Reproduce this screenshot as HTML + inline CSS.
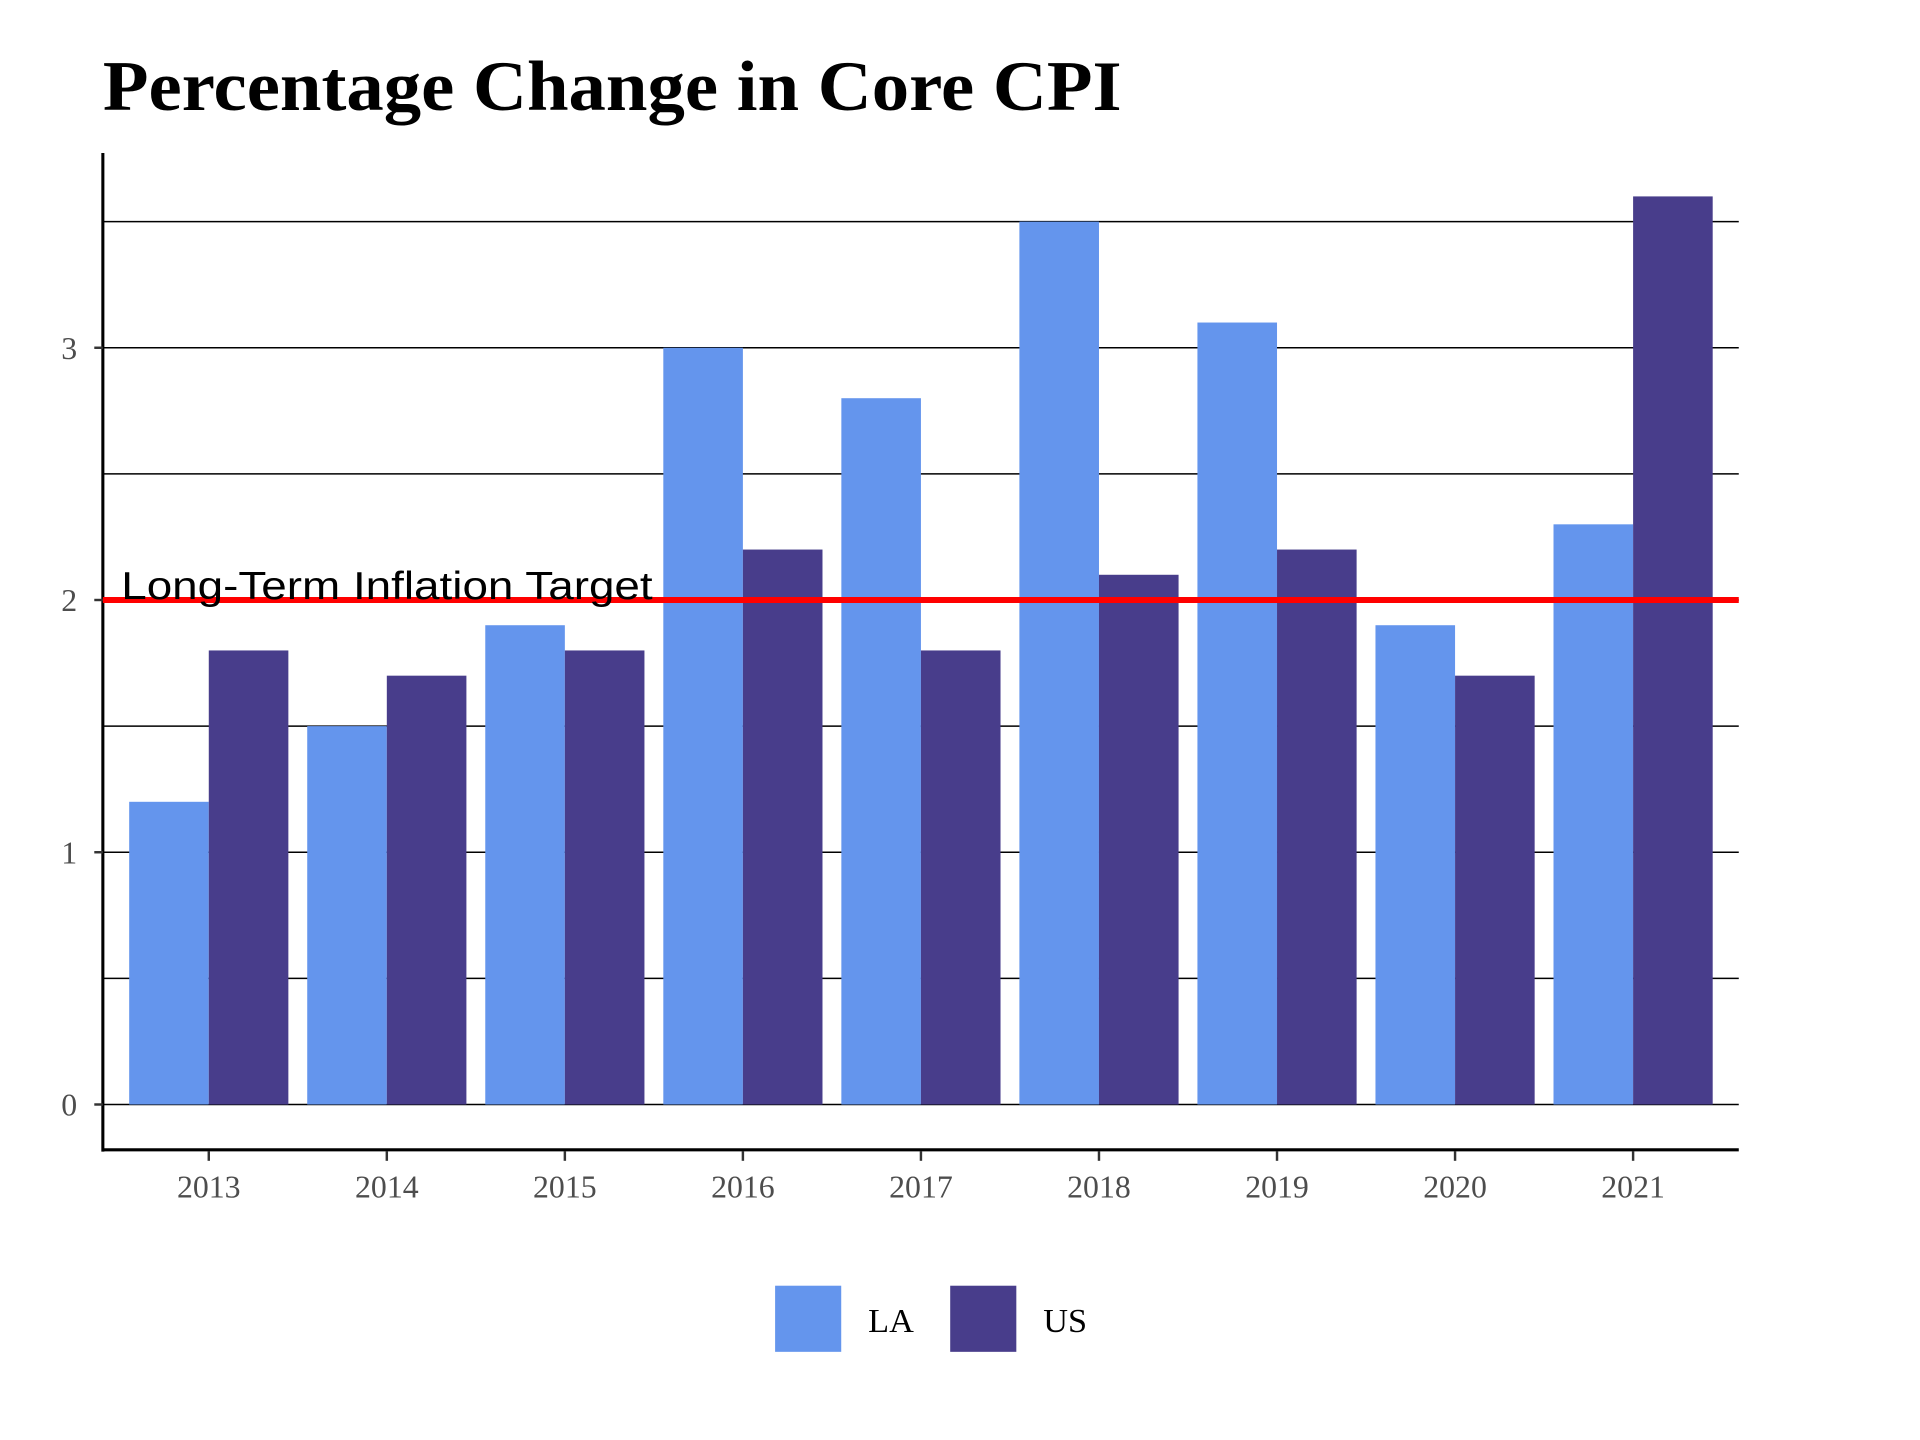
<!DOCTYPE html>
<html><head><meta charset="utf-8"><style>
html,body{margin:0;padding:0;background:#fff;}
svg{display:block;}
</style></head><body>
<svg id="chart" width="1920" height="1440" viewBox="0 0 1568 1176" xmlns="http://www.w3.org/2000/svg">
<text x="84" y="90" font-family="Liberation Serif, serif" font-weight="bold" font-size="58" textLength="832" lengthAdjust="spacingAndGlyphs">Percentage Change in Core CPI</text>
<g id="grid"></g>
<g id="bars"></g>
<g id="axes"></g>
<line x1="84" x2="1420" y1="490" y2="490" stroke="#ff0000" stroke-width="5"/>
<text x="99" y="489" font-family="Liberation Sans, sans-serif" font-size="32" textLength="434" lengthAdjust="spacingAndGlyphs">Long-Term Inflation Target</text>
<g>
<rect x="633" y="1050" width="54" height="54" fill="#6495ed"/>
<text x="709" y="1088" font-family="Liberation Serif, serif" font-size="28">LA</text>
<rect x="776" y="1050" width="54" height="54" fill="#483d8b"/>
<text x="852" y="1088" font-family="Liberation Serif, serif" font-size="28">US</text>
</g>
</svg>
<script>
const categories = ["2013","2014","2015","2016","2017","2018","2019","2020","2021"];
const laValues = [1.2,1.5,1.9,3.0,2.8,3.5,3.1,1.9,2.3];
const usValues = [1.8,1.7,1.8,2.2,1.8,2.1,2.2,1.7,3.6];
const yTicks = [0,1,2,3];
const gridValues = [0,0.5,1,1.5,2,2.5,3,3.5];

const NS = "http://www.w3.org/2000/svg";
const left = 84, right = 1420, y0px = 902, unit = 206;
const firstCenter = 170.5, step = 145.4, barW = 65;
function yScale(v){ return y0px - v*unit; }
function xScale(i){ return firstCenter + i*step; }
function mk(tag, attrs, parent){
  const el = document.createElementNS(NS, tag);
  for (const k in attrs) el.setAttribute(k, attrs[k]);
  parent.appendChild(el);
  return el;
}
const grid = document.getElementById('grid');
gridValues.forEach(v => {
  const l = mk('line', {x1:left, x2:right, y1:yScale(v), y2:yScale(v), stroke:'#000', 'stroke-width':1.3}, grid);
  
  
});
const bars = document.getElementById('bars');
categories.forEach((c, i) => {
  const cx = xScale(i);
  const a = mk('rect', {x:cx-barW, y:yScale(laValues[i]), width:barW, height:yScale(0)-yScale(laValues[i]), fill:'#6495ed'}, bars);
  
  
  const b = mk('rect', {x:cx, y:yScale(usValues[i]), width:barW, height:yScale(0)-yScale(usValues[i]), fill:'#483d8b'}, bars);
  
  
});
const axes = document.getElementById('axes');
const ya = mk('line', {x1:left, x2:left, y1:125, y2:940.5, stroke:'#000', 'stroke-width':2.5}, axes);


const xa = mk('line', {x1:left-1, x2:right, y1:939, y2:939, stroke:'#000', 'stroke-width':2.5}, axes);


yTicks.forEach(v => {
  const t = mk('line', {x1:left-7, x2:left, y1:yScale(v), y2:yScale(v), stroke:'#333', 'stroke-width':2}, axes);
  
  
  const tx = mk('text', {x:63, y:yScale(v)+9, 'text-anchor':'end', 'font-family':'Liberation Serif, serif', 'font-size':26, fill:'#4d4d4d'}, axes);
  tx.textContent = String(v);
  
  
});
categories.forEach((c, i) => {
  const cx = xScale(i);
  const t = mk('line', {x1:cx, x2:cx, y1:940, y2:948, stroke:'#333', 'stroke-width':2}, axes);
  
  
  const tx = mk('text', {x:cx, y:978, 'text-anchor':'middle', 'font-family':'Liberation Serif, serif', 'font-size':26, fill:'#4d4d4d'}, axes);
  tx.textContent = c;
  
  
});
</script>
</body></html>
